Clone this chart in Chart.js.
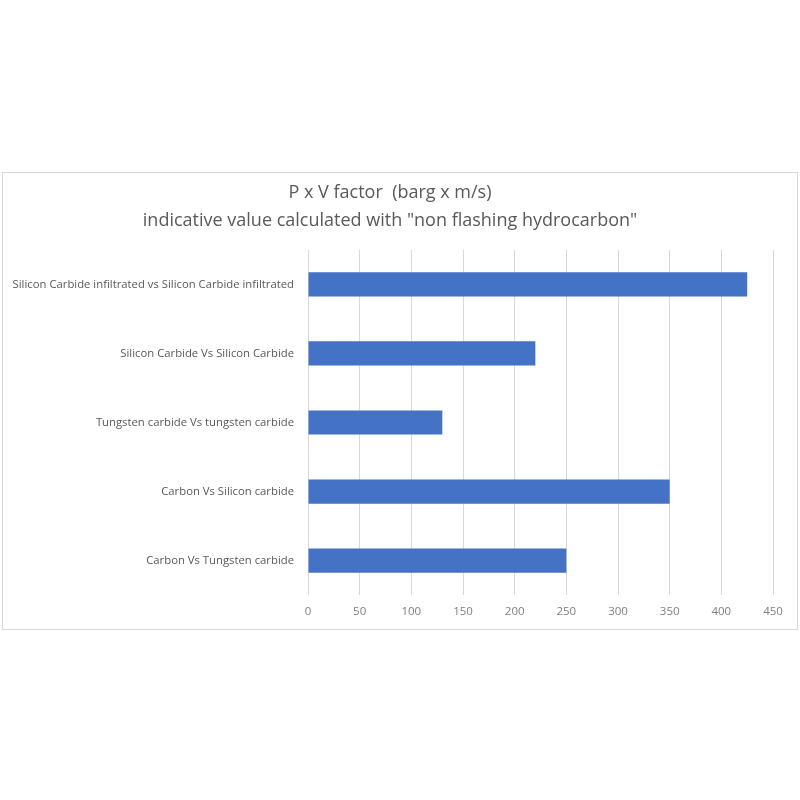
<!DOCTYPE html>
<html>
<head>
<meta charset="utf-8">
<script src="https://cdn.jsdelivr.net/npm/chart.js@4"></script>
<style>
  body { margin: 0; background: #fff; width: 800px; height: 800px; position: relative; }
  #box { position: absolute; left: 2px; top: 172px; width: 794px; height: 456px; border: 1px solid #d9d9d9; background: #fff; }
</style>
</head>
<body>
<div id="box"><canvas id="chart" width="794" height="456"></canvas></div>
<script>
const categories = [
  'Silicon Carbide infiltrated vs Silicon Carbide infiltrated',
  'Silicon Carbide Vs Silicon Carbide',
  'Tungsten carbide Vs tungsten carbide',
  'Carbon Vs Silicon carbide',
  'Carbon Vs Tungsten carbide'
];
const pvValues = [425, 220, 130, 350, 250];
const titleLines = ['P x V factor  (barg x m/s)', 'indicative value calculated with "non flashing hydrocarbon"'];

const fontFamily = '"Open Sans", sans-serif';

const ctx = document.getElementById('chart').getContext('2d');
new Chart(ctx, {
  type: 'bar',
  data: {
    labels: categories,
    datasets: [{
      data: pvValues,
      backgroundColor: '#4472c4',
      borderWidth: 0,
      barPercentage: 0.7,
      categoryPercentage: 0.5
    }]
  },
  options: {
    indexAxis: 'y',
    responsive: false,
    animation: false,
    layout: { padding: { top: 6, right: 24, bottom: 0, left: 4 } },
    plugins: {
      legend: { display: false },
      tooltip: { enabled: false },
      title: {
        display: true,
        text: titleLines,
        color: '#595959',
        font: { size: 18, family: fontFamily, weight: 'normal', lineHeight: 1.55 },
        padding: { top: 0, bottom: 15 }
      }
    },
    scales: {
      x: {
        min: 0,
        max: 450,
        ticks: { stepSize: 50, color: '#7f7f7f', font: { size: 11.5, family: fontFamily }, padding: 10 },
        grid: { color: '#d9d9d9', drawTicks: false },
        border: { display: false }
      },
      y: {
        afterFit: (scale) => { scale.width = 301; },
        ticks: { color: '#595959', font: { size: 11.3, family: fontFamily }, padding: 6 },
        grid: { display: false },
        border: { display: false }
      }
    }
  }
});
</script>
</body>
</html>
